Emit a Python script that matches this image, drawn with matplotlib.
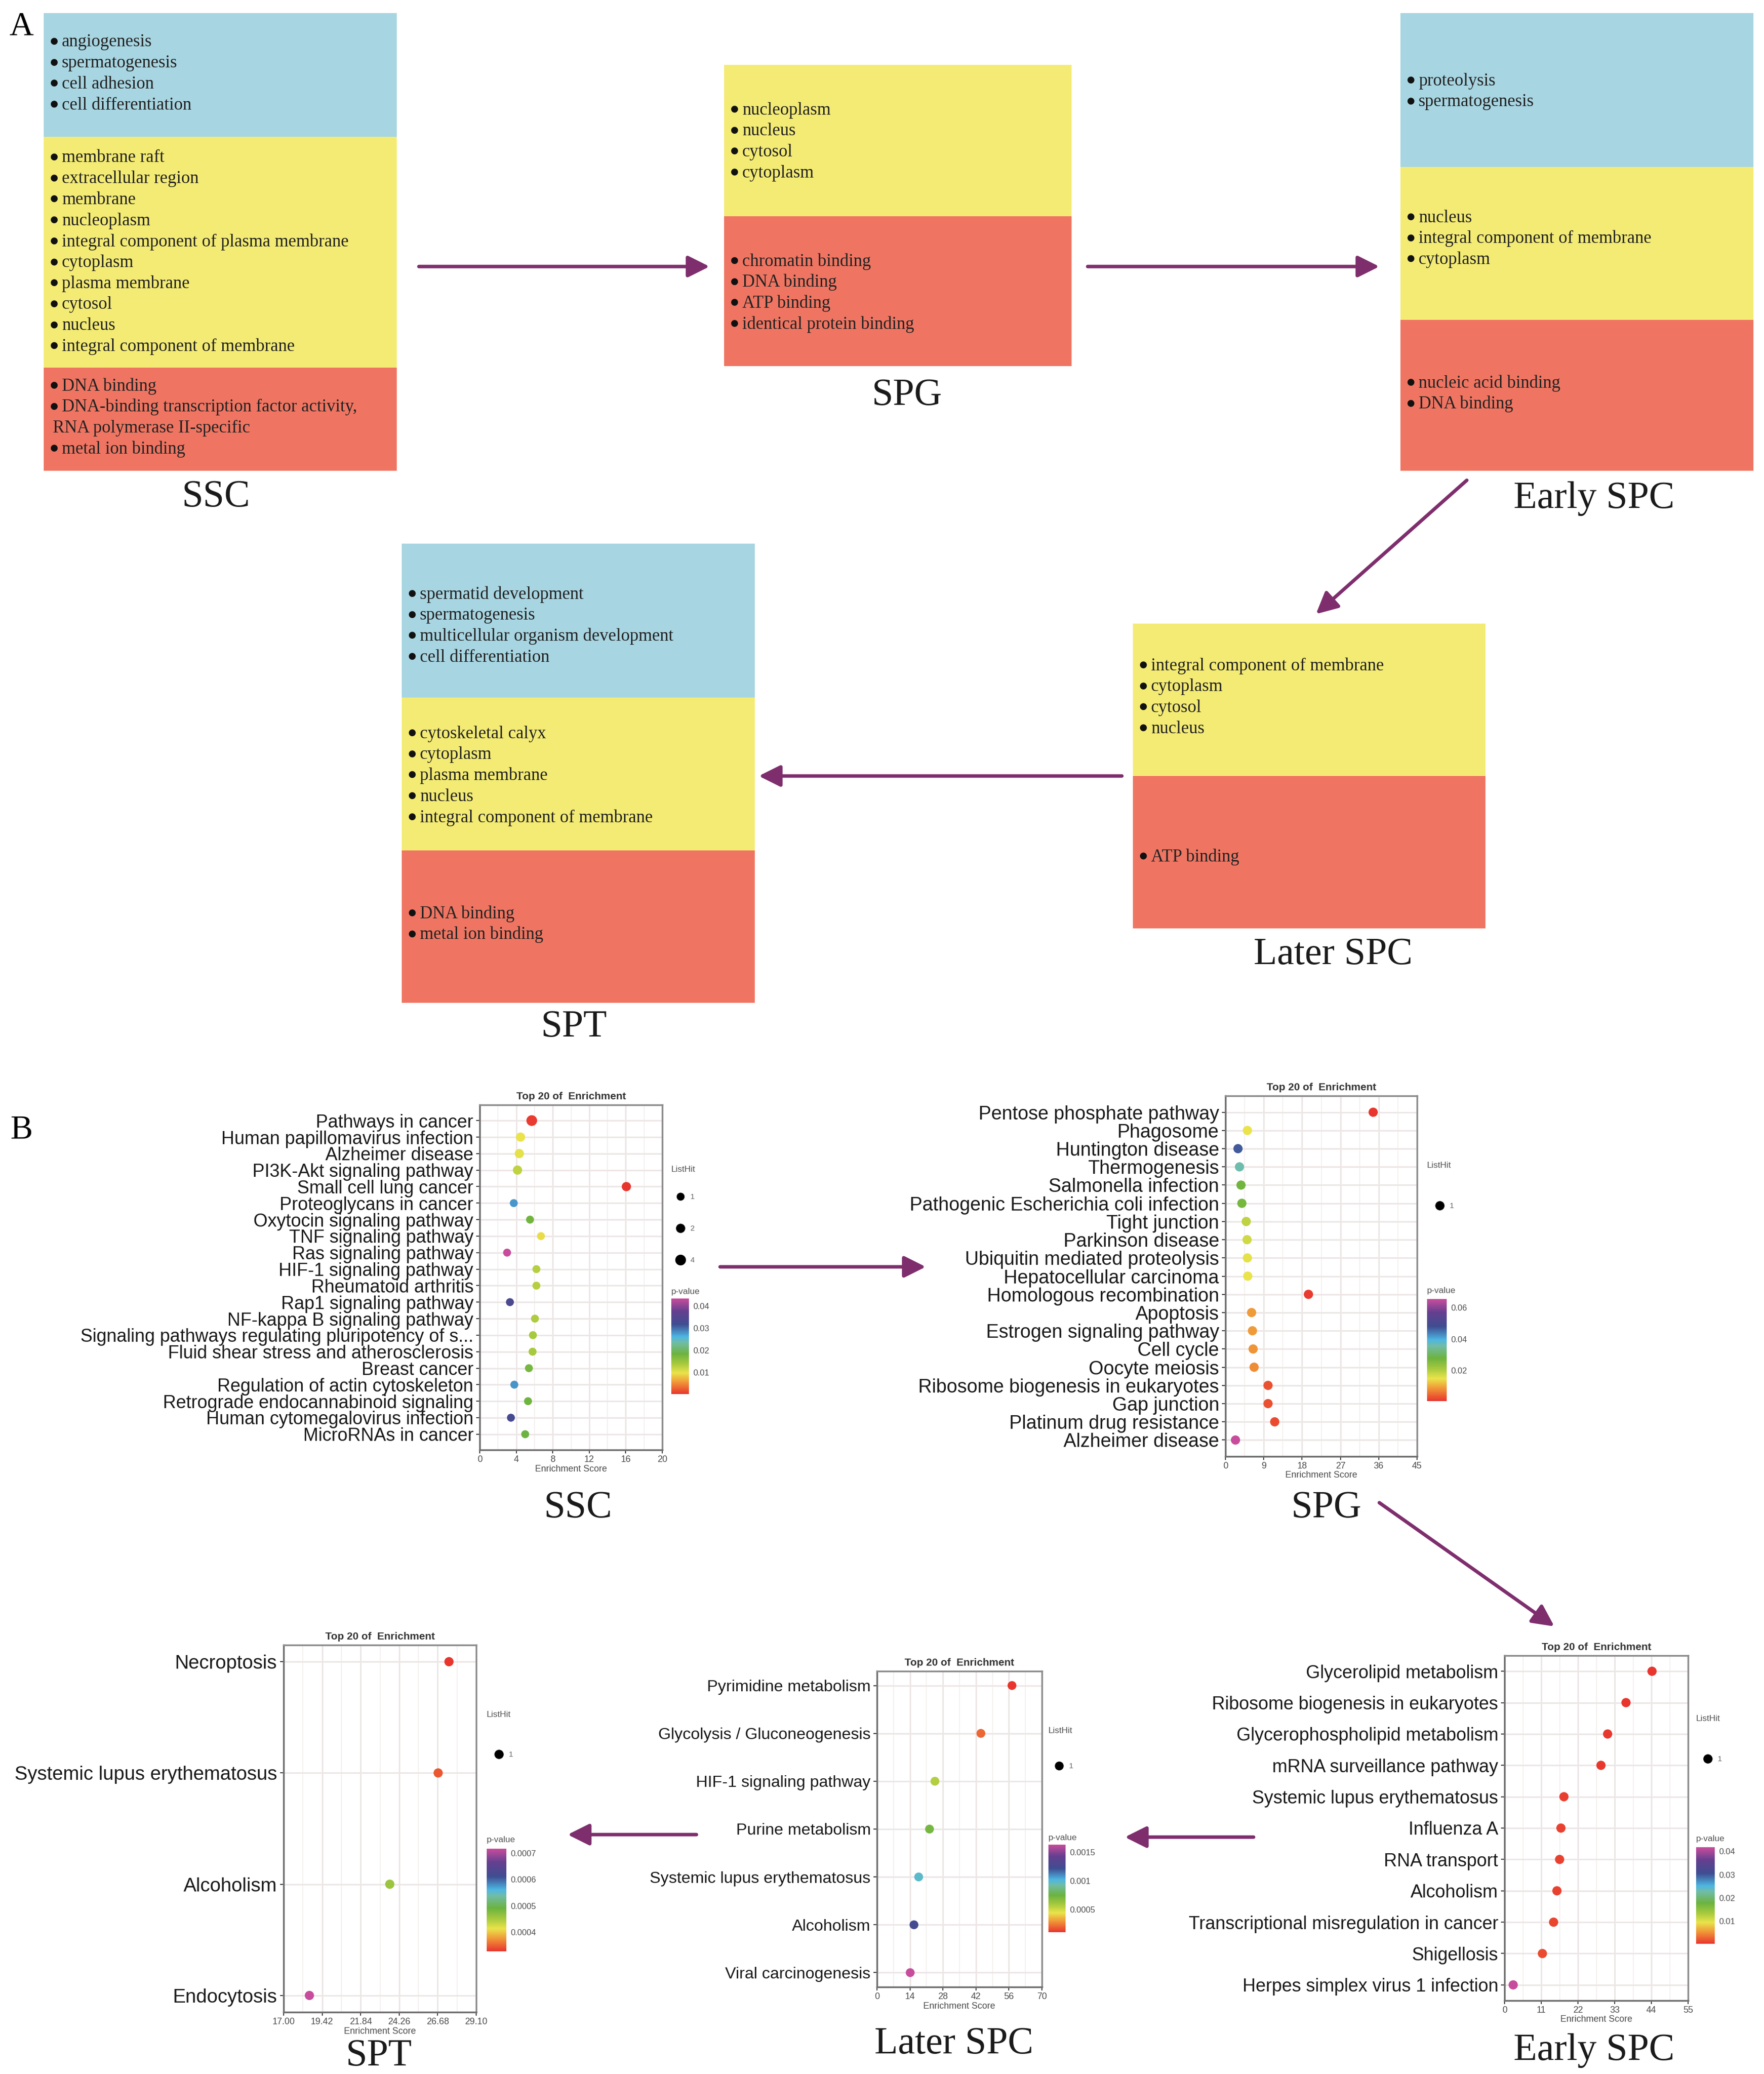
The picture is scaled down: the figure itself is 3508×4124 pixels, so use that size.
import numpy as np
import matplotlib
matplotlib.use("Agg")
import matplotlib.pyplot as plt
from matplotlib.colors import LinearSegmentedColormap
from matplotlib.lines import Line2D
from matplotlib.patches import Rectangle
from matplotlib.ticker import FormatStrFormatter, FuncFormatter

plt.rcParams['font.family'] = ['Liberation Sans', 'DejaVu Sans']
SERIF = ['Liberation Serif', 'DejaVu Serif']

W, H = 3508, 4124

# ---------------- Panel A: GO terms per stage ----------------
ssc_bp = ["angiogenesis", "spermatogenesis", "cell adhesion", "cell differentiation"]
ssc_cc = ["membrane raft", "extracellular region", "membrane", "nucleoplasm",
          "integral component of plasma membrane", "cytoplasm", "plasma membrane",
          "cytosol", "nucleus", "integral component of membrane"]
ssc_mf = ["DNA binding",
          "DNA-binding transcription factor activity,\nRNA polymerase II-specific",
          "metal ion binding"]

spg_cc = ["nucleoplasm", "nucleus", "cytosol", "cytoplasm"]
spg_mf = ["chromatin binding", "DNA binding", "ATP binding", "identical protein binding"]

early_bp = ["proteolysis", "spermatogenesis"]
early_cc = ["nucleus", "integral component of membrane", "cytoplasm"]
early_mf = ["nucleic acid binding", "DNA binding"]

later_cc = ["integral component of membrane", "cytoplasm", "cytosol", "nucleus"]
later_mf = ["ATP binding"]

spt_bp = ["spermatid development", "spermatogenesis",
          "multicellular organism development", "cell differentiation"]
spt_cc = ["cytoskeletal calyx", "cytoplasm", "plasma membrane", "nucleus",
          "integral component of membrane"]
spt_mf = ["DNA binding", "metal ion binding"]

# ---------------- Panel B: KEGG enrichment per stage ----------------
ssc_terms = ["Pathways in cancer", "Human papillomavirus infection", "Alzheimer disease",
             "PI3K-Akt signaling pathway", "Small cell lung cancer", "Proteoglycans in cancer",
             "Oxytocin signaling pathway", "TNF signaling pathway", "Ras signaling pathway",
             "HIF-1 signaling pathway", "Rheumatoid arthritis", "Rap1 signaling pathway",
             "NF-kappa B signaling pathway", "Signaling pathways regulating pluripotency of s...",
             "Fluid shear stress and atherosclerosis", "Breast cancer",
             "Regulation of actin cytoskeleton", "Retrograde endocannabinoid signaling",
             "Human cytomegalovirus infection", "MicroRNAs in cancer"]
ssc_score = [5.70, 4.47, 4.34, 4.14, 16.07, 3.73, 5.51, 6.71, 3.00, 6.21,
             6.21, 3.31, 6.05, 5.83, 5.79, 5.39, 3.79, 5.29, 3.42, 4.98]
ssc_p = [0.0008, 0.0098, 0.0101, 0.0125, 0.0003, 0.0278, 0.0180, 0.0095, 0.0434, 0.0130,
         0.0130, 0.0335, 0.0135, 0.0140, 0.0140, 0.0178, 0.0280, 0.0182, 0.0330, 0.0185]
ssc_hits = [4, 2, 2, 2, 2, 1, 1, 1, 1, 1, 1, 1, 1, 1, 1, 1, 1, 1, 1, 1]

spg_terms = ["Pentose phosphate pathway", "Phagosome", "Huntington disease", "Thermogenesis",
             "Salmonella infection", "Pathogenic Escherichia coli infection", "Tight junction",
             "Parkinson disease", "Ubiquitin mediated proteolysis", "Hepatocellular carcinoma",
             "Homologous recombination", "Apoptosis", "Estrogen signaling pathway", "Cell cycle",
             "Oocyte meiosis", "Ribosome biogenesis in eukaryotes", "Gap junction",
             "Platinum drug resistance", "Alzheimer disease"]
spg_score = [34.7, 5.16, 2.95, 3.30, 3.66, 3.86, 4.88, 5.08, 5.16, 5.24,
             19.5, 6.14, 6.34, 6.50, 6.73, 10.0, 10.0, 11.57, 2.36]
spg_p = [0.0006, 0.0150, 0.0470, 0.0360, 0.0275, 0.0270, 0.0190, 0.0175, 0.0155, 0.0150,
         0.0012, 0.0092, 0.0090, 0.0086, 0.0078, 0.0030, 0.0030, 0.0025, 0.0656]
spg_hits = [1] * 19

early_terms = ["Glycerolipid metabolism", "Ribosome biogenesis in eukaryotes",
               "Glycerophospholipid metabolism", "mRNA surveillance pathway",
               "Systemic lupus erythematosus", "Influenza A", "RNA transport", "Alcoholism",
               "Transcriptional misregulation in cancer", "Shigellosis",
               "Herpes simplex virus 1 infection"]
early_score = [44.2, 36.4, 30.9, 28.9, 17.8, 16.9, 16.5, 15.7, 14.7, 11.35, 2.6]
early_p = [0.0004, 0.0005, 0.0006, 0.0006, 0.0010, 0.0011, 0.0011, 0.0012, 0.0013, 0.0016, 0.0418]
early_hits = [1] * 11

later_terms = ["Pyrimidine metabolism", "Glycolysis / Gluconeogenesis", "HIF-1 signaling pathway",
               "Purine metabolism", "Systemic lupus erythematosus", "Alcoholism",
               "Viral carcinogenesis"]
later_score = [57.3, 44.1, 24.6, 22.3, 17.7, 15.7, 14.1]
later_p = [0.00010, 0.00020, 0.00056, 0.00072, 0.00098, 0.00125, 0.00163]
later_hits = [1] * 7

spt_terms = ["Necroptosis", "Systemic lupus erythematosus", "Alcoholism", "Endocytosis"]
spt_score = [27.39, 26.71, 23.67, 18.62]
spt_p = [0.000328, 0.000345, 0.000460, 0.000717]
spt_hits = [1] * 4

# ---------------- styling ----------------
BLUE, YELLOW, RED = '#A7D5E1', '#F4EB74', '#EF7562'
PURPLE = '#7E2E6D'
pcmap = LinearSegmentedColormap.from_list('pval', [
    (0.0, '#E8352E'), (0.12, '#F09437'), (0.22, '#EAE34A'), (0.31, '#ABCB3E'),
    (0.42, '#6CB33F'), (0.54, '#71BCA6'), (0.60, '#4DB7E2'), (0.73, '#3F4D91'),
    (0.87, '#653F8F'), (1.0, '#C84C9C')])

fig = plt.figure(figsize=(W / 100, H / 100), dpi=100)
base = fig.add_axes([0, 0, 1, 1])
base.set_xlim(0, W)
base.set_ylim(H, 0)
base.axis('off')


def frac(x0, y0, x1, y1):
    return [x0 / W, 1 - y1 / H, (x1 - x0) / W, (y1 - y0) / H]


def arrow(x0, y0, x1, y1):
    base.annotate('', xy=(x1, y1), xytext=(x0, y0),
                  arrowprops=dict(arrowstyle='-|>', color=PURPLE, lw=5,
                                  mutation_scale=65, shrinkA=0, shrinkB=0))


LINE = 41.7


def stage_box(x0, x1, sections, label, lx, ly):
    for color, y0, y1, ty, items in sections:
        base.add_patch(Rectangle((x0, y0), x1 - x0, y1 - y0, color=color, lw=0))
        k = 0
        for item in items:
            for j, part in enumerate(item.split('\n')):
                yy = ty + k * LINE
                if j == 0:
                    base.text(x0 + 21, yy - 2, '\u25CF', family='DejaVu Sans', fontsize=13,
                              color='#111111', ha='center', va='center')
                    base.text(x0 + 36, yy, part, family=SERIF, fontsize=25,
                              color='#222222', va='center')
                else:
                    base.text(x0 + 18, yy, part, family=SERIF, fontsize=25,
                              color='#222222', va='center')
                k += 1
    base.text(lx, ly, label, family=SERIF, fontsize=55, color='#1a1a1a',
              ha='center', va='center')


stage_box(87, 789, [(BLUE, 26, 272, 84, ssc_bp), (YELLOW, 272, 731, 314, ssc_cc),
                    (RED, 731, 936, 768, ssc_mf)], 'SSC', 430, 989)
stage_box(1440, 2131, [(YELLOW, 129, 430, 219, spg_cc), (RED, 430, 728, 520, spg_mf)],
          'SPG', 1804, 786)
stage_box(2785, 3487, [(BLUE, 26, 332, 161, early_bp), (YELLOW, 332, 636, 433, early_cc),
                       (RED, 636, 936, 762, early_mf)], 'Early SPC', 3170, 992)
stage_box(2253, 2954, [(YELLOW, 1240, 1543, 1324, later_cc), (RED, 1543, 1846, 1704, later_mf)],
          'Later SPC', 2651, 1899)
stage_box(799, 1501, [(BLUE, 1081, 1387, 1182, spt_bp), (YELLOW, 1387, 1691, 1459, spt_cc),
                      (RED, 1691, 1994, 1817, spt_mf)], 'SPT', 1142, 2042)

base.text(42, 53, 'A', family=SERIF, fontsize=48, ha='center', va='center')
base.text(42, 2247, 'B', family=SERIF, fontsize=48, ha='center', va='center')

arrow(833, 530, 1411, 530)
arrow(2163, 530, 2743, 530)
arrow(2917, 955, 2617, 1221)
arrow(2231, 1543, 1509, 1543)

arrow(1432, 2519, 1841, 2519)
arrow(2743, 2988, 3091, 3234)
arrow(2493, 3653, 2237, 3653)
arrow(1385, 3648, 1129, 3648)


def dot_chart(rect, terms, score, pvals, hits, xticks, xfmt, cbar_rect, cticks,
              sizes, leg_x, leg_title_y, leg_mid_y, leg_space, pval_y, label, label_xy,
              label_size=26):
    ax = fig.add_axes(frac(*rect))
    y = np.arange(len(terms))
    s = [sizes[h] for h in hits]
    sc = ax.scatter(score, y, s=s, c=pvals, cmap=pcmap, vmin=min(pvals), vmax=max(pvals),
                    edgecolors='none', zorder=3)
    ax.set_yticks(y)
    ax.set_yticklabels(terms, fontsize=label_size, color='#1a1a1a')
    ax.invert_yaxis()
    ax.set_xlim(xticks[0], xticks[-1])
    ax.set_xticks(xticks)
    ax.xaxis.set_major_formatter(FormatStrFormatter(xfmt))
    ax.set_xticks((np.array(xticks[:-1]) + np.array(xticks[1:])) / 2, minor=True)
    ax.grid(True, which='major', color='#EDE6E6', lw=2.2, zorder=0)
    ax.grid(True, which='minor', axis='x', color='#F5F0F0', lw=1.4, zorder=0)
    ax.set_axisbelow(True)
    ax.tick_params(axis='x', labelsize=13, labelcolor='#4D4D4D', length=5, width=1.5,
                   color='#444444', pad=3)
    ax.tick_params(axis='x', which='minor', length=0)
    ax.tick_params(axis='y', length=5, width=1.5, color='#444444', pad=4)
    for side in ax.spines.values():
        side.set_color('#8C8C8C')
        side.set_linewidth(2.5)
    ax.spines['left'].set_color('#6E6E6E')
    ax.spines['bottom'].set_color('#6E6E6E')
    ax.set_xlabel('Enrichment Score', fontsize=13, color='#4D4D4D', labelpad=1)
    ax.set_title('Top 20 of  Enrichment', fontsize=15, fontweight='bold', color='#333333', pad=8)

    cax = fig.add_axes(frac(*cbar_rect))
    cb = fig.colorbar(sc, cax=cax)
    cb.outline.set_visible(False)
    cb.set_ticks(cticks)
    cb.ax.yaxis.set_major_formatter(FuncFormatter(lambda v, _: f'{v:g}'))
    cb.ax.tick_params(length=0, labelsize=12, labelcolor='#4D4D4D', pad=6)

    fig.text(cbar_rect[0] / W, 1 - pval_y / H, 'p-value', fontsize=12.5, color='#555555',
             va='center')
    fig.text(cbar_rect[0] / W, 1 - leg_title_y / H, 'ListHit', fontsize=12.5, color='#555555',
             va='center')
    levels = sorted(set(hits))
    handles = [Line2D([], [], marker='o', ls='', color='black', markeredgewidth=0,
                      markersize=np.sqrt(sizes[v])) for v in levels]
    fig.legend(handles, [str(v) for v in levels], loc='center left',
               bbox_to_anchor=(leg_x / W, 1 - leg_mid_y / H), frameon=False, fontsize=11,
               labelcolor='#666666', handlelength=1.0, handletextpad=0.8, borderpad=0,
               labelspacing=leg_space, borderaxespad=0)
    base.text(label_xy[0], label_xy[1], label, family=SERIF, fontsize=55, color='#1a1a1a',
              ha='center', va='center')


dot_chart((954, 2197, 1317, 2883), ssc_terms, ssc_score, ssc_p, ssc_hits,
          np.linspace(0, 20, 6), '%d', (1335, 2582, 1370, 2772), [0.01, 0.02, 0.03, 0.04],
          {1: 130, 2: 175, 4: 235}, 1345, 2325, 2443, 3.2, 2568, 'SSC', (1150, 2999), 26)
dot_chart((2437, 2179, 2818, 2896), spg_terms, spg_score, spg_p, spg_hits,
          np.linspace(0, 45, 6), '%d', (2838, 2583, 2877, 2786), [0.02, 0.04, 0.06],
          {1: 175}, 2855, 2318, 2398, 1, 2567, 'SPG', (2638, 2999), 27.3)
dot_chart((2992, 3292, 3357, 3978), early_terms, early_score, early_p, early_hits,
          np.linspace(0, 55, 6), '%d', (3373, 3673, 3410, 3865), [0.01, 0.02, 0.03, 0.04],
          {1: 175}, 3388, 3418, 3498, 1, 3656, 'Early SPC', (3170, 4078), 26)
dot_chart((1744, 3323, 2072, 3951), later_terms, later_score, later_p, later_hits,
          np.linspace(0, 70, 6), '%d', (2085, 3668, 2119, 3842), [0.0005, 0.001, 0.0015],
          {1: 160}, 2098, 3442, 3512, 1, 3655, 'Later SPC', (1897, 4065), 23.3)
dot_chart((564, 3271, 947, 4001), spt_terms, spt_score, spt_p, spt_hits,
          np.linspace(17.0, 29.1, 6), '%.2f', (968, 3676, 1007, 3880),
          [0.0004, 0.0005, 0.0006, 0.0007],
          {1: 175}, 984, 3409, 3489, 1, 3658, 'SPT', (754, 4088), 27.7)

fig.savefig('out.png', dpi=100)
